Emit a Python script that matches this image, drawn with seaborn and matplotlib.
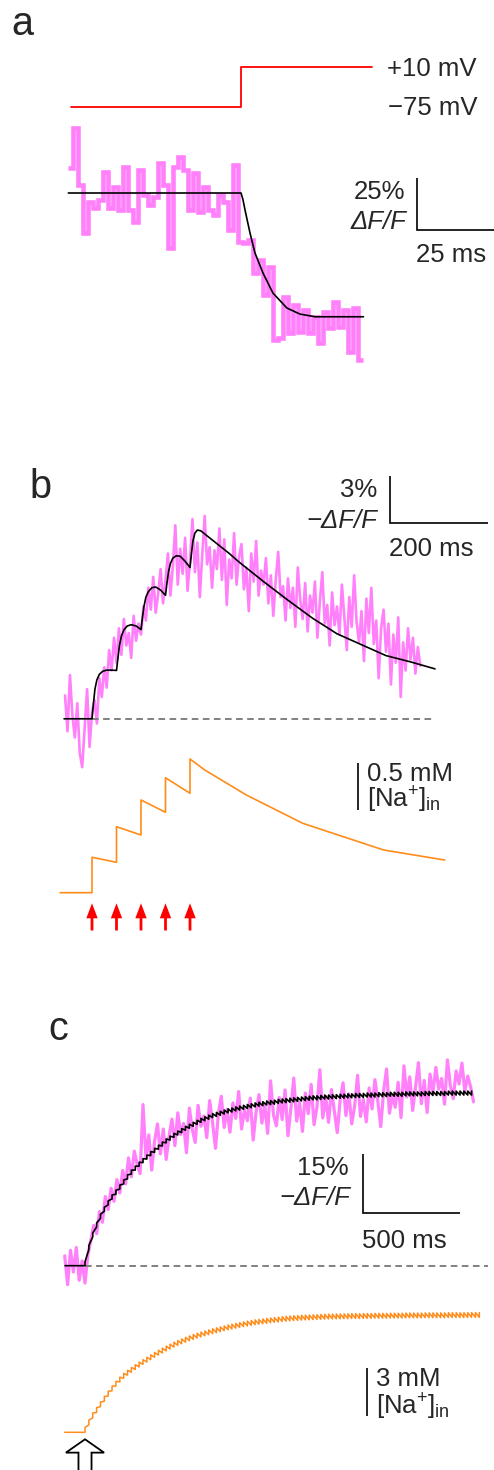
import numpy as np
import matplotlib
matplotlib.use("Agg")
import matplotlib.pyplot as plt
import seaborn as sns
from matplotlib.patches import FancyArrowPatch

# ---------------- data ----------------
# Panel a : voltage protocol (ms, mV)
a_volt_t = [-54.9, 0.0, 0.0, 42.3]
a_volt_mv = [-75, -75, 10, 10]
a_volt_labels = ["+10 mV", "\u221275 mV"]
# Panel a : fluorescence, dF/F (%), one sample every 1.613 ms from -55.7 ms
a_dff_start_ms = -55.7
a_dff_dt_ms = 1.613
a_dff = [11.9, 31.1, 3.8, -19.4, -4.2, -7.4, -3.4, 10.3, -7.4, 3.0,
         -8.2, 12.7, -8.2, -13.8, 11.1, -1.0, -5.8, -1.8, 14.3, 3.8,
         -26.6, 12.7, 17.5, 11.1, -8.2, 9.5, -9.0, 3.0, -8.2, -10.6,
         -1.0, -4.2, -17.8, 13.5, -23.4, -24.2, -22.6, -38.6, -32.2, -49.0,
         -35.4, -70.7, -69.9, -49.8, -67.5, -53.8, -66.7, -56.3, -67.5, -59.5,
         -72.3, -57.0, -65.1, -52.2, -64.3, -56.3, -76.3, -55.4, -80.3]
a_fit_t = [-55.7, 0.0, 0.6, 1.3, 2.9, 4.5, 7.1, 10.3, 14.8, 19.0, 23.9, 39.5]
a_fit = [0, 0, -3.0, -8.2, -19.2, -28.8, -38.5, -48.1, -55.3, -58.2, -59.5, -59.5]
a_scale_ms, a_scale_pct = 25, 25

# Panel b : 5 stimuli, -dF/F (%) every 5 ms from -55 ms
b_stim_ms = [0, 50, 100, 150, 200]
b_dff_start_ms = -55
b_dff_dt_ms = 5
b_dff = [1.5, -0.8, 2.8, 0.2, -1.2, 1.0, -2.2, -3.1, -0.6, 1.9, -1.8, 0.4,
         1.2, -0.3, 2.6, 1.4, 3.3, 2.0, 4.4, 3.1, 5.2,
         3.6, 5.8, 4.1, 6.4, 4.7, 5.5, 3.9, 6.6, 5.0, 6.1,
         5.4, 7.2, 6.3, 8.4, 7.0, 9.1, 6.8, 8.0, 9.6, 7.4,
         8.9, 10.6, 7.9, 9.8, 12.4, 8.6, 10.9, 9.3, 11.6, 8.2,
         10.1, 12.8, 9.4, 11.3, 7.8, 10.5, 13.0, 9.9, 11.0, 8.4,
         10.8, 9.6, 12.2, 8.9, 11.5, 7.3, 10.2, 9.0, 11.9, 8.6,
         10.4, 11.2, 8.3, 9.7, 6.9, 10.6, 8.8, 11.4, 7.9, 9.5,
         8.6, 10.3, 7.4, 9.2, 6.6, 8.9, 10.7, 7.8, 8.5, 6.3,
         9.0, 7.1, 8.4, 5.9, 9.7, 7.6, 6.4, 8.7, 5.6, 7.9,
         6.8, 8.8, 5.2, 7.5, 9.4, 6.1, 7.3, 4.7, 8.1, 6.0,
         7.2, 5.4, 8.6, 6.5, 4.4, 7.8, 5.9, 9.2, 6.2, 4.9,
         6.9, 3.7, 7.7, 5.5, 8.4, 4.8, 6.3, 2.6, 5.8, 7.0,
         4.3, 6.1, 2.2, 5.4, 3.6, 6.5, 1.4, 4.9, 3.1, 5.8,
         3.8, 5.2, 2.9, 4.6, 3.4]
b_fit_t = [-57, 0, 3, 6, 10, 15, 22, 30, 40, 50,
           53, 56, 60, 65, 72, 80, 90, 100,
           103, 106, 110, 115, 122, 130, 140, 150,
           153, 156, 160, 165, 172, 180, 190, 200,
           203, 206, 210, 215, 222, 230,
           250, 280, 300, 350, 400, 450, 500, 550, 600, 650, 700]
b_fit = [0, 0, 1.0, 1.9, 2.5, 2.85, 3.05, 3.12, 3.12, 3.10,
         3.9, 4.7, 5.3, 5.7, 5.95, 6.03, 5.95, 5.72,
         6.5, 7.2, 7.8, 8.15, 8.4, 8.45, 8.25, 7.92,
         8.7, 9.4, 9.95, 10.3, 10.45, 10.42, 10.1, 9.7,
         10.6, 11.4, 11.9, 12.1, 12.05, 11.85,
         11.35, 10.6, 10.05, 8.8, 7.6, 6.45, 5.45, 4.75, 4.05, 3.65, 3.2]
b_na_t = [-65, 0, 0, 50, 50, 100, 100, 150, 150, 200, 200, 230, 315, 430, 595, 720]
b_na_mM = [0, 0, 0.374, 0.321, 0.697, 0.609, 0.979, 0.849, 1.214, 1.05, 1.412,
           1.296, 1.032, 0.733, 0.451, 0.345]
b_baseline_ms = [0, 700]
b_scale_ms, b_scale_pct, b_scale_mM = 200, 3, 0.5

# Panel c : 50 Hz train, -dF/F (%) every 15 ms from -105 ms
c_dff_start_ms = -105
c_dff_dt_ms = 15
c_dff = [2.5, -4.8, 3.9, -1.6, 4.6, -3.7, 1.2, -4.4,
         2.8, 6.5, 10.2, 8.1, 13.7, 11.0, 17.5, 14.2, 19.6, 16.3,
         21.8, 18.4, 24.1, 20.7, 27.3, 22.5, 29.0, 25.6, 23.3, 40.8,
         27.4, 33.1, 24.2, 31.5, 35.9, 28.3, 34.6, 26.9, 32.8, 37.1,
         30.4, 38.7, 33.2, 36.0, 28.6, 39.9, 34.5, 31.2, 40.6, 35.3,
         37.9, 32.4, 41.8, 36.2, 29.7, 38.4, 42.9, 35.0, 39.6, 33.8,
         41.2, 37.3, 44.1, 34.6, 39.5, 36.7, 42.4, 31.8, 38.9, 43.3,
         36.1, 40.7, 33.5, 46.8, 38.2, 35.4, 42.6, 37.0, 44.5, 32.9,
         39.8, 47.5, 36.6, 41.3, 34.0, 43.7, 38.5, 45.9, 35.7, 40.2,
         49.6, 37.4, 42.8, 36.3, 44.6, 39.1, 33.7, 41.9, 46.3, 38.0,
         43.5, 35.9, 40.4, 48.2, 37.8, 42.1, 36.4, 45.0, 39.7, 47.1,
         41.6, 35.2, 44.3, 49.8, 38.6, 43.0, 40.1, 46.4, 37.5, 50.6,
         42.7, 47.8, 39.3, 45.2, 51.4, 41.0, 46.9, 38.8, 48.5, 43.9,
         50.2, 44.7, 47.4, 40.9, 52.1, 45.6, 42.3, 49.3, 46.0, 51.3,
         44.2, 48.0, 45.3, 41.5]
c_pulse_period_ms = 20
c_fit_pre_ms = -103
c_fit_center = [0.5, 4.6, 7.8, 10.3, 12.5, 14.3, 15.9, 17.4, 18.6, 19.9,
                21.2, 22.5, 23.7, 24.7, 25.7, 26.6, 27.5, 28.4, 29.2, 30.0,
                30.8, 31.6, 32.3, 33.0, 33.6, 34.2, 34.8, 35.3, 35.8, 36.3,
                36.8, 37.2, 37.6, 38.0, 38.3, 38.6, 38.9, 39.2, 39.4, 39.7,
                39.9, 40.1, 40.3, 40.5, 40.7, 40.9, 41.0, 41.2, 41.3, 41.4,
                41.6, 41.7, 41.8, 41.9, 42.0, 42.1, 42.2, 42.3, 42.4, 42.5,
                42.5, 42.6, 42.7, 42.7, 42.8, 42.8, 42.9, 42.9, 43.0, 43.0,
                43.1, 43.1, 43.1, 43.2, 43.2, 43.2, 43.3, 43.3, 43.3, 43.4,
                43.4, 43.4, 43.4, 43.5, 43.5, 43.5, 43.5, 43.5, 43.6, 43.6,
                43.6, 43.6, 43.6, 43.6, 43.7, 43.7, 43.7, 43.7, 43.7, 43.7,
                43.7]
c_fit_ripple = 1.0
c_na_pre_ms = -105
c_na_center = [0.15, 0.62, 1.06, 1.40, 1.76, 2.10, 2.43, 2.76, 3.06, 3.32,
               3.55, 3.75, 3.93, 4.10, 4.26, 4.42, 4.57, 4.72, 4.87, 5.01,
               5.14, 5.27, 5.39, 5.51, 5.62, 5.72, 5.82, 5.91, 6.00, 6.08,
               6.15, 6.22, 6.29, 6.36, 6.42, 6.48, 6.54, 6.60, 6.65, 6.70,
               6.75, 6.80, 6.84, 6.88, 6.92, 6.95, 6.98, 7.01, 7.04, 7.07,
               7.09, 7.12, 7.14, 7.16, 7.18, 7.19, 7.21, 7.22, 7.23, 7.24,
               7.25, 7.26, 7.27, 7.28, 7.28, 7.29, 7.29, 7.30, 7.30, 7.31,
               7.31, 7.31, 7.32, 7.32, 7.32, 7.33, 7.33, 7.33, 7.33, 7.34,
               7.34, 7.34, 7.34, 7.35, 7.35, 7.35, 7.35, 7.35, 7.36, 7.36,
               7.36, 7.36, 7.36, 7.36, 7.37, 7.37, 7.37, 7.37, 7.37, 7.37,
               7.38, 7.38, 7.38]
c_na_ripple = 0.3
c_baseline_ms = [0, 2085]
c_scale_ms, c_scale_pct, c_scale_mM = 500, 15, 3

panel_letters = ["a", "b", "c"]

# ---------------- styling ----------------
sns.set_style("white")
plt.rcParams["font.family"] = ["Liberation Sans", "DejaVu Sans"]
plt.rcParams["mathtext.fontset"] = "custom"
plt.rcParams["mathtext.rm"] = "Liberation Sans"
plt.rcParams["mathtext.it"] = "Liberation Sans:italic"
plt.rcParams["mathtext.bf"] = "Liberation Sans:bold"

MAGENTA = "#ff80fa"
ORANGE = "#ff8c1a"
RED = "#ff0000"
GREY = "#808080"
FS = 18.5
FS_LET = 28.5

W, H = 494, 1470
fig = plt.figure(figsize=(W / 100, H / 100), dpi=100)


def make_ax(x0, ppx, y0, ppy):
    ax = fig.add_axes([0, 0, 1, 1])
    ax.set_axis_off()
    ax.patch.set_alpha(0)
    return ax, (x0, ppx, y0, ppy)


def set_lims(ax, spec):
    x0, ppx, y0, ppy = spec
    ax.set_xlim(-x0 / ppx, (W - x0) / ppx)
    ax.set_ylim((y0 - H) / ppy, y0 / ppy)
    ax.set_axis_off()


def to_data(spec, px, py):
    x0, ppx, y0, ppy = spec
    return (px - x0) / ppx, (y0 - py) / ppy


def line(ax, x, y, color, lw, **kw):
    sns.lineplot(x=np.asarray(x, float), y=np.asarray(y, float), ax=ax,
                 color=color, lw=lw, estimator=None, sort=False, legend=False, **kw)


def txt(px, py, s, ha="left", size=FS, **kw):
    fig.text(px / W, 1 - py / H, s, ha=ha, va="baseline", fontsize=size, **kw)


def scalebar(ax, spec, px, py, dx, dy):
    cx, cy = to_data(spec, px, py)
    xs = [cx + dx, cx, cx] if dx else [cx, cx]
    ys = [cy, cy, cy + dy] if dx else [cy, cy + dy]
    ax.plot(xs, ys, color="black", lw=1.2, solid_capstyle="butt", solid_joinstyle="miter")


def sawtooth(pre_t, centers, period, ripple):
    xs, ys = [pre_t, 0.0], [0.0, 0.0]
    for k, c in enumerate(centers):
        t = k * period
        xs += [t, t]
        ys += [c - ripple / 2, c + ripple / 2]
    return xs, ys


def arrow(ax, x, y0, y1, style, fc, ec, lw):
    p = FancyArrowPatch((x, y0), (x, y1), arrowstyle=style, mutation_scale=1,
                        facecolor=fc, edgecolor=ec, lw=lw, shrinkA=0, shrinkB=0,
                        transform=ax.transData, joinstyle="miter")
    ax.add_patch(p)


# ================= Panel a =================
ax_av, sp_av = make_ax(241, 3.1, 71.7, 40 / 85)
line(ax_av, a_volt_t, a_volt_mv, RED, 1.3)
set_lims(ax_av, sp_av)

ax_af, sp_af = make_ax(241, 3.1, 193, 2.08)
edges = a_dff_start_ms + a_dff_dt_ms * np.arange(len(a_dff) + 1)
line(ax_af, edges, list(a_dff) + [a_dff[-1]], MAGENTA, 3.3,
     drawstyle="steps-post", solid_joinstyle="miter", solid_capstyle="butt")
line(ax_af, a_fit_t, a_fit, "black", 1.2)
scalebar(ax_af, sp_af, 417.3, 230, a_scale_ms, a_scale_pct)
set_lims(ax_af, sp_af)

txt(11, 35, panel_letters[0], size=FS_LET)
txt(387, 76, a_volt_labels[0])
txt(388, 115, a_volt_labels[1])
txt(405, 199, f"{a_scale_pct}%", ha="right")
txt(406, 229, "\u0394F/F", ha="right", style="italic")
txt(416, 262, f"{a_scale_ms} ms")

# ================= Panel b =================
ax_bf, sp_bf = make_ax(92, 0.49, 718.8, 15.6)
tb = b_dff_start_ms + b_dff_dt_ms * np.arange(len(b_dff))
line(ax_bf, tb, b_dff, MAGENTA, 1.9)
ax_bf.plot(b_baseline_ms, [0, 0], color=GREY, lw=1.4, dashes=[3.4, 2.3])
line(ax_bf, b_fit_t, b_fit, "black", 1.2)
scalebar(ax_bf, sp_bf, 390, 523.3, b_scale_ms, b_scale_pct)
set_lims(ax_bf, sp_bf)

ax_bn, sp_bn = make_ax(92, 0.49, 892.7, 94.7)
line(ax_bn, b_na_t, b_na_mM, ORANGE, 1.2)
scalebar(ax_bn, sp_bn, 357.5, 810.5, 0, b_scale_mM)
_, ya = to_data(sp_bn, 0, 930.5)
_, yb = to_data(sp_bn, 0, 903.3)
for s in b_stim_ms:
    arrow(ax_bn, s, ya, yb, "simple,head_length=10.8,head_width=8.2,tail_width=2.0",
          RED, "none", 0)
set_lims(ax_bn, sp_bn)

txt(29, 497.5, panel_letters[1], size=FS_LET)
txt(377, 497.3, f"{b_scale_pct}%", ha="right")
txt(377, 528.3, "\u2212\u0394F/F", ha="right", style="italic")
txt(389, 556.5, f"{b_scale_ms} ms")
txt(367, 781, f"{b_scale_mM} mM")
txt(367, 807.5, r"$\mathrm{[Na^{+}]_{in}}$")

# ================= Panel c =================
ax_cf, sp_cf = make_ax(85, 0.1933, 1265.7, 3.95)
tc = c_dff_start_ms + c_dff_dt_ms * np.arange(len(c_dff))
line(ax_cf, tc, c_dff, MAGENTA, 2.3)
ax_cf.plot(c_baseline_ms, [0, 0], color=GREY, lw=1.4, dashes=[3.4, 2.3])
fx, fy = sawtooth(c_fit_pre_ms, c_fit_center, c_pulse_period_ms, c_fit_ripple)
line(ax_cf, fx, fy, "black", 1.2)
scalebar(ax_cf, sp_cf, 363.3, 1213.3, c_scale_ms, c_scale_pct)
set_lims(ax_cf, sp_cf)

ax_cn, sp_cn = make_ax(85, 0.1933, 1432.3, 15.9)
nx, ny = sawtooth(c_na_pre_ms, c_na_center, c_pulse_period_ms, c_na_ripple)
line(ax_cn, nx, ny, ORANGE, 1.1)
scalebar(ax_cn, sp_cn, 367, 1416, 0, c_scale_mM)
_, ya = to_data(sp_cn, 0, 1490)
_, yb = to_data(sp_cn, 0, 1439.3)
arrow(ax_cn, 0, ya, yb, "simple,head_length=9.6,head_width=27.5,tail_width=9.4",
      "white", "black", 1.3)
set_lims(ax_cn, sp_cn)

txt(48, 1040, panel_letters[2], size=FS_LET)
txt(349, 1175, f"{c_scale_pct}%", ha="right")
txt(350, 1205, "\u2212\u0394F/F", ha="right", style="italic")
txt(362, 1248.3, f"{c_scale_ms} ms")
txt(376, 1386.5, f"{c_scale_mM} mM")
txt(376, 1414, r"$\mathrm{[Na^{+}]_{in}}$")

fig.savefig("out.png", dpi=100, facecolor="white")
